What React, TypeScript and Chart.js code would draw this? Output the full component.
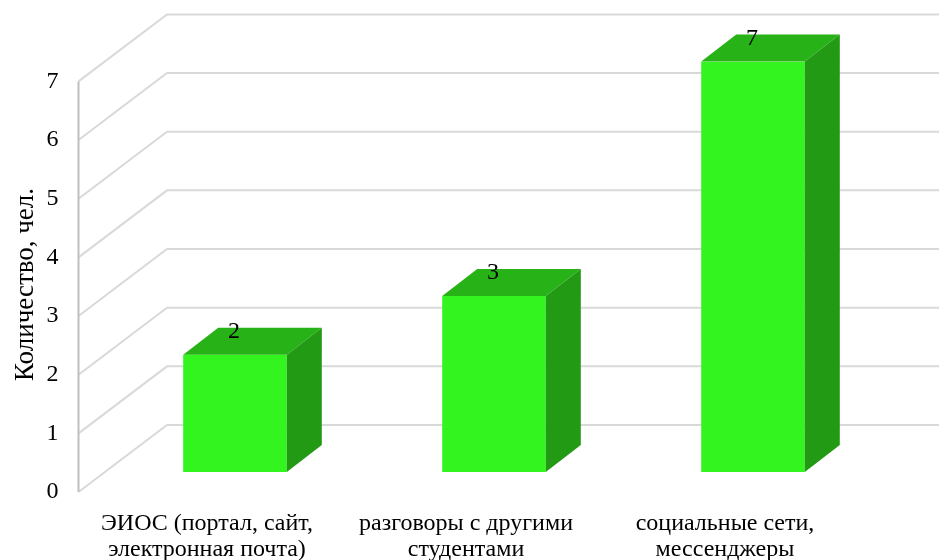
import React, { useEffect, useRef } from "react";
import { Chart, registerables } from "chart.js";

Chart.register(...registerables);

const categories = [
  ["ЭИОС (портал, сайт,", "электронная почта)"],
  ["разговоры с другими", "студентами"],
  ["социальные сети,", "мессенджеры"],
];
const values = [2, 3, 7];
const yTicks = [0, 1, 2, 3, 4, 5, 6, 7];
const yTitle = "Количество, чел.";

const FONT = "'Liberation Serif', 'Times New Roman', serif";
const FRONT = "#33F41F";
const TOP = "#27B317";
const SIDE = "#229A14";
const GRID = "#D9D9D9";
const WALL = "#BFBFBF";

const WALL_X = 78.5;
const BACK_X = 167;
const FRONT_DY = 20;
const BACK_DY = -47;
const BAR_DX = 35;
const BAR_DY = -27;

const poly = (ctx: CanvasRenderingContext2D, pts: number[][], fill: string) => {
  ctx.beginPath();
  pts.forEach(([x, y], i) => (i ? ctx.lineTo(x, y) : ctx.moveTo(x, y)));
  ctx.closePath();
  ctx.fillStyle = fill;
  ctx.fill();
};

const walls = {
  id: "walls",
  beforeDatasetsDraw(chart: any) {
    const { ctx, scales } = chart;
    const y = scales.y;
    ctx.save();
    ctx.lineWidth = 2;
    yTicks.forEach((v) => {
      const p = y.getPixelForValue(v);
      ctx.strokeStyle = GRID;
      ctx.beginPath();
      ctx.moveTo(WALL_X, p + FRONT_DY);
      ctx.lineTo(BACK_X, p + BACK_DY);
      ctx.lineTo(chart.width, p + BACK_DY);
      ctx.stroke();
    });
    ctx.strokeStyle = WALL;
    ctx.beginPath();
    ctx.moveTo(WALL_X, y.getPixelForValue(7) + FRONT_DY);
    ctx.lineTo(WALL_X, y.getPixelForValue(0) + FRONT_DY);
    ctx.stroke();
    ctx.fillStyle = "#000";
    ctx.textAlign = "center";
    ctx.textBaseline = "middle";
    ctx.translate(26, 284.5);
    ctx.rotate(-Math.PI / 2);
    ctx.font = `27px ${FONT}`;
    ctx.fillText(yTitle, 0, 0);
    ctx.restore();
  },
};

const bars3d = {
  id: "bars3d",
  afterDatasetsDraw(chart: any) {
    const { ctx } = chart;
    const meta = chart.getDatasetMeta(0);
    ctx.save();
    meta.data.forEach((bar: any, i: number) => {
      const { x, y, base, width } = bar.getProps(["x", "y", "base", "width"], true);
      const l = x - width / 2;
      const r = x + width / 2;
      poly(ctx, [[l, y], [l + BAR_DX, y + BAR_DY], [r + BAR_DX, y + BAR_DY], [r, y]], TOP);
      poly(ctx, [[r, y], [r + BAR_DX, y + BAR_DY], [r + BAR_DX, base + BAR_DY], [r, base]], SIDE);
      ctx.fillStyle = "#000";
      ctx.font = `24px ${FONT}`;
      ctx.textAlign = "center";
      ctx.textBaseline = "middle";
      ctx.fillText(String(values[i]), x - 1, y - 23);
    });
    ctx.restore();
  },
};

export default function App() {
  const ref = useRef<HTMLCanvasElement>(null);
  useEffect(() => {
    const chart = new Chart(ref.current!, {
      type: "bar",
      data: {
        labels: categories,
        datasets: [
          {
            data: values,
            backgroundColor: FRONT,
            borderWidth: 0,
            barPercentage: 0.4,
            categoryPercentage: 1,
          },
        ],
      },
      options: {
        responsive: false,
        animation: false,
        devicePixelRatio: 1,
        layout: { padding: { top: 61, right: 56.5, left: 0, bottom: 0 } },
        plugins: { legend: { display: false }, tooltip: { enabled: false } },
        scales: {
          x: {
            grid: { display: false, drawTicks: false },
            border: { display: false },
            ticks: {
              color: "#000",
              font: { family: FONT, size: 24, lineHeight: 1.08 },
              maxRotation: 0,
              minRotation: 0,
              autoSkip: false,
              labelOffset: -28,
              padding: 39,
            },
            afterFit(scale: any) {
              scale.height = 88;
            },
          },
          y: {
            min: 0,
            max: 7,
            grid: { display: false, drawTicks: false },
            border: { display: false },
            ticks: {
              stepSize: 1,
              color: "#000",
              font: { family: FONT, size: 24 },
              labelOffset: 20,
              padding: 47,
            },
            afterFit(scale: any) {
              scale.width = 105.5;
            },
          },
        },
      },
      plugins: [walls, bars3d],
    } as any);
    return () => chart.destroy();
  }, []);
  return (
    <canvas
      ref={ref}
      width={939}
      height={560}
      style={{ position: "absolute", left: 0, top: 0, display: "block", width: 939, height: 560 }}
    />
  );
}
